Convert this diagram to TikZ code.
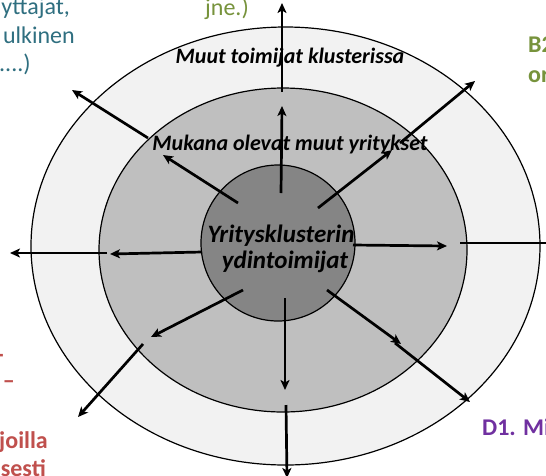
\documentclass[tikz,border=0pt]{standalone}
\usepackage{fontspec}
\setmainfont{Carlito}
\usetikzlibrary{arrows.meta,shapes.geometric}
\definecolor{tealtxt}{HTML}{2F6F80}
\definecolor{greentxt}{HTML}{77933C}
\definecolor{redtxt}{HTML}{C0504D}
\definecolor{purpletxt}{HTML}{7030A0}
\definecolor{ringouter}{HTML}{F2F2F2}
\definecolor{ringmid}{HTML}{BFBFBF}
\definecolor{ringcore}{HTML}{858585}
\begin{document}
\begin{tikzpicture}[x=1pt,y=-1pt,
  arr/.style={line width=2.7pt, -{Stealth[length=10pt,width=9pt,inset=2.5pt]}},
  ring/.style={draw=black, line width=1.2pt, ellipse, inner sep=0pt},
  lbl/.style={font=\fontsize{22}{26}\selectfont\bfseries\itshape, inner sep=0pt},
  corelbl/.style={font=\fontsize{25}{29}\selectfont\bfseries\itshape, inner sep=0pt},
  side/.style={font=\fontsize{24}{28}\selectfont, inner sep=0pt},
  sideb/.style={font=\fontsize{24}{28}\selectfont\bfseries, inner sep=0pt}]
\useasboundingbox (0,0) rectangle (546,475);
\clip (0,0) rectangle (546,475);
\fill[white] (0,0) rectangle (546,475);
% rings
\node[ring, fill=ringouter, minimum width=509pt, minimum height=438pt] (outer) at (285.5,246) {};
\node[ring, fill=ringmid, minimum width=368pt, minimum height=324pt] (middle) at (283,250) {};
\node[ring, fill=ringcore, minimum width=154pt, minimum height=156pt] (core) at (278,243) {};
% ring labels
\node[lbl, anchor=base] (tOuter) at (290,63) {Muut toimijat klusterissa};
\node[lbl, anchor=base] (tMiddle) at (290,150) {Mukana olevat muut yritykset};
\node[corelbl, anchor=base] (tCore1) at (281,242) {Yritysklusterin};
\node[corelbl, anchor=base] (tCore2) at (285,268) {ydintoimijat};
% outside texts (cropped by the frame)
\node[side, text=tealtxt, anchor=base east] (a1) at (70,14) {yttajat,};
\node[side, text=tealtxt, anchor=base east] (a2) at (75,43) {ulkinen};
\node[side, text=tealtxt, anchor=base west] (a3) at (-1,71) {....)};
\node[side, text=greentxt, anchor=base west] (b1) at (205,15) {jne.)};
\node[sideb, text=greentxt, anchor=base west] (c1) at (528,52) {B2};
\node[sideb, text=greentxt, anchor=base west] (c2) at (528,82) {or};
\node[sideb, text=redtxt, anchor=base east] (d1) at (4,362) {-};
\node[sideb, text=redtxt, anchor=base east] (d2) at (15,388) {–};
\node[sideb, text=redtxt, anchor=base east] (d3) at (48,448) {joilla};
\node[sideb, text=redtxt, anchor=base east] (d4) at (46,476) {isesti};
\node[sideb, text=purpletxt, anchor=base west] (e1) at (482,435) {D1. Mi};
% arrow points
\coordinate (Ni) at (281,193); \coordinate (Nm) at (282,106);
\coordinate (No) at (282,92);  \coordinate (Nt) at (282,3);
\coordinate (NEi) at (318,208); \coordinate (NEm) at (392,150);
\coordinate (NEo) at (400,143); \coordinate (NEt) at (475,81);
\coordinate (Ei) at (353,245); \coordinate (Em) at (447,246);
\coordinate (Eo) at (460,243); \coordinate (Et) at (558,243);
\coordinate (Wi) at (202,252); \coordinate (Wm) at (110,254);
\coordinate (Wo) at (107,253); \coordinate (Wt) at (10,253);
\coordinate (Si) at (285,298); \coordinate (Sm) at (285,390);
\coordinate (So) at (286,405); \coordinate (St) at (287,478);
\coordinate (NWi) at (238,203); \coordinate (NWm) at (163,155);
\coordinate (NWo) at (148,138); \coordinate (NWt) at (72,90);
\coordinate (SWi) at (243,290); \coordinate (SWm) at (151,337);
\coordinate (SWo) at (143,344); \coordinate (SWt) at (78,417);
\coordinate (SEi) at (327,290); \coordinate (SEm) at (401,344);
\coordinate (SEo) at (395,343); \coordinate (SEt) at (470,402);
% arrows
\foreach \d in {N,NE,E,W,S,NW,SW,SE}{
  \draw[arr] (\d i) -- (\d m);
  \draw[arr] (\d o) -- (\d t);
}
\end{tikzpicture}
\end{document}
